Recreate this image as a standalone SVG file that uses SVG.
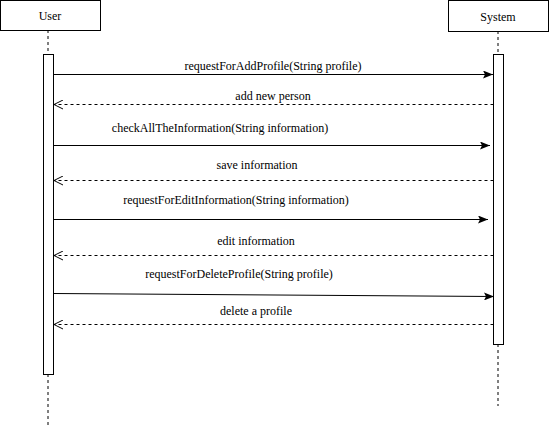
<svg xmlns="http://www.w3.org/2000/svg" width="549" height="426" viewBox="0 0 549 426">
<style>
.box{fill:#fff;stroke:#000;stroke-width:1}
.life{stroke:#000;stroke-width:1;stroke-dasharray:3,3;fill:none}
.msg{stroke:#000;stroke-width:1;fill:none}
.ret{stroke:#000;stroke-width:1;stroke-dasharray:3,3;fill:none}
text{font-family:"Liberation Serif","Times New Roman",serif;font-size:12px;fill:#000;text-anchor:middle}
</style>
<defs>
<marker id="filled" markerWidth="10" markerHeight="8" refX="10" refY="4" orient="auto" markerUnits="userSpaceOnUse">
<path d="M0,0 L10,4 L0,8 L2,4 Z" fill="#000"/>
</marker>
<marker id="open" markerWidth="10" markerHeight="10" refX="9" refY="5" orient="auto" markerUnits="userSpaceOnUse">
<path d="M0,0.5 L9,5 L0,9.5" fill="none" stroke="#000" stroke-width="1"/>
</marker>
</defs>
<rect width="549" height="426" fill="#fff"/>
<g id="lifelines">
<line class="life" x1="48" y1="30" x2="48" y2="54"/>
<line class="life" x1="48" y1="374" x2="48" y2="426"/>
<line class="life" x1="498" y1="31" x2="498" y2="54"/>
<line class="life" x1="498" y1="344" x2="498" y2="406"/>
</g>
<g id="user">
<rect class="box" x="0.5" y="0.5" width="100" height="30"/>
<text x="50" y="20" font-family="Liberation Serif, serif">User</text>
<rect class="box" x="43.5" y="54.5" width="10" height="320"/>
</g>
<g id="system">
<rect class="box" x="448.5" y="0.5" width="100" height="31"/>
<text x="498" y="21" font-family="Liberation Serif, serif">System</text>
<rect class="box" x="493.5" y="54.5" width="10" height="290"/>
</g>
<g id="connectors">
<line class="msg" x1="53.5" y1="74.5" x2="493" y2="74.5" marker-end="url(#filled)"/>
<line class="ret" x1="493.5" y1="104.5" x2="54" y2="104.5" marker-end="url(#open)"/>
<line class="msg" x1="53.5" y1="145.5" x2="490" y2="145.5" marker-end="url(#filled)"/>
<line class="ret" x1="493.5" y1="180.5" x2="54" y2="180.5" marker-end="url(#open)"/>
<line class="msg" x1="53.5" y1="219.5" x2="488" y2="219.5" marker-end="url(#filled)"/>
<line class="ret" x1="493.5" y1="255.5" x2="54" y2="255.5" marker-end="url(#open)"/>
<line class="msg" x1="53.5" y1="293.5" x2="494" y2="296.5" marker-end="url(#filled)"/>
<line class="ret" x1="493.5" y1="324.5" x2="54" y2="324.5" marker-end="url(#open)"/>
</g>
<g id="labels" font-family="Liberation Serif, serif">
<text x="273" y="70">requestForAddProfile(String profile)</text>
<text x="273" y="100">add new person</text>
<text x="220" y="132">checkAllTheInformation(String information)</text>
<text x="257" y="169">save information</text>
<text x="236" y="204">requestForEditInformation(String information)</text>
<text x="256" y="245">edit information</text>
<text x="239" y="278">requestForDeleteProfile(String profile)</text>
<text x="256" y="315">delete a profile</text>
</g>
</svg>
